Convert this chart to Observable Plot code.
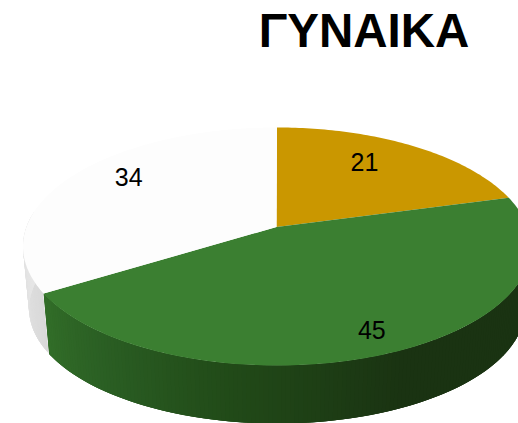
<!DOCTYPE html>
<html>
<head>
<meta charset="utf-8">
<script src="https://cdn.jsdelivr.net/npm/d3@7"></script>
<script src="https://cdn.jsdelivr.net/npm/@observablehq/plot@0.6"></script>
<style>html,body{margin:0;padding:0;background:#fff}svg{display:block}</style>
</head>
<body>
<div id="chart"></div>
<script>
const title = "ΓΥΝΑΙΚΑ";
const labels = ["21", "45", "34"];
const values = [21, 45, 34];
const topColors = ["#ca9700", "#3b7f31", "#fdfdfd"];

// Perspective-pie geometry (styling, separate from the data)
const W = 518, H = 423;
const top3d = {cx: 276.5, cy: 246, rx: 254, ry: 119};
const bot3d = {cx: 276.5, cy: 308, rx: 248, ry: 115};
const apex = {x: 276, y: 226.5};
const persp = 0.835;
const labelFrac = [[0.653, 0.785], [0.80, 0.83], [0.735, 0.93]];
const wallGreen = d3.scaleLinear().domain([90, 150, 190, 225, 250]).range(["#1a3312", "#1a3312", "#214a18", "#2b6024", "#337029"]).clamp(true);
const wallGrey = d3.scaleLinear().domain([247, 285]).range(["#d9d9d9", "#e8e8e8"]).clamp(true);

const rad = Math.PI / 180;
const phi = t => {
  const p = 2 * Math.atan(persp * Math.tan(t * rad / 2)) / rad;
  return t > 180 ? p + 360 : p;
};
const onEllipse = (e, p) => ({x: e.cx + e.rx * Math.sin(p * rad), y: e.cy - e.ry * Math.cos(p * rad)});

const total = d3.sum(values);
let acc = 0;
const slices = values.map((v, i) => {
  const t0 = acc / total * 360;
  acc += v;
  return {i, t0, t1: acc / total * 360, tm: (t0 + acc / total * 360) / 2};
});

// Top faces
const faces = slices.flatMap(s => {
  const pts = [{id: s.i, x: apex.x, y: apex.y, color: topColors[s.i]}];
  const n = Math.ceil(s.t1 - s.t0);
  for (let k = 0; k <= n; k++) {
    const q = onEllipse(top3d, phi(s.t0 + (s.t1 - s.t0) * k / n));
    pts.push({id: s.i, x: q.x, y: q.y, color: topColors[s.i]});
  }
  return pts;
});

// Side wall strips: each one overlaps the next so no seams show
const pBoundary = phi(slices[1].t1);
const strips = [];
for (let p = 90, id = 0; p < 285; p += 1, id++) {
  const green = p < pBoundary - 0.5;
  const p1 = green ? Math.min(p + 3, pBoundary) : p + 3;
  const color = green ? wallGreen(p) : wallGrey(p);
  const a = onEllipse(top3d, p), b = onEllipse(top3d, p1), c = onEllipse(bot3d, p1), d = onEllipse(bot3d, p);
  for (const q of [a, b, c, d, a]) strips.push({id, x: q.x, y: q.y, color});
}

// Labels
const labelData = slices.map(s => {
  const e = onEllipse(top3d, phi(s.tm));
  const [fx, fy] = labelFrac[s.i];
  return {text: labels[s.i], x: apex.x + fx * (e.x - apex.x), y: apex.y + fy * (e.y - apex.y)};
});

const chart = Plot.plot({
  width: W, height: H,
  margin: 0,
  x: {domain: [0, W], range: [0, W], axis: null},
  y: {domain: [0, H], range: [0, H], axis: null},
  color: {type: "identity"},
  style: {background: "#fff"},
  marks: [
    Plot.line(strips, {x: "x", y: "y", z: "id", fill: "color", stroke: "none", curve: "linear"}),
    Plot.line(faces, {x: "x", y: "y", z: "id", fill: "color", stroke: "none", curve: "linear"}),
    Plot.text(labelData, {x: "x", y: "y", text: "text", fontSize: 25, fill: "#000", fontFamily: "Liberation Sans"}),
    Plot.text([title], {x: () => 363.5, y: () => 31, text: d => d, fontSize: 47.5, fontWeight: "bold", fill: "#000", fontFamily: "Liberation Sans"})
  ]
});
document.getElementById("chart").append(chart);
</script>
</body>
</html>
